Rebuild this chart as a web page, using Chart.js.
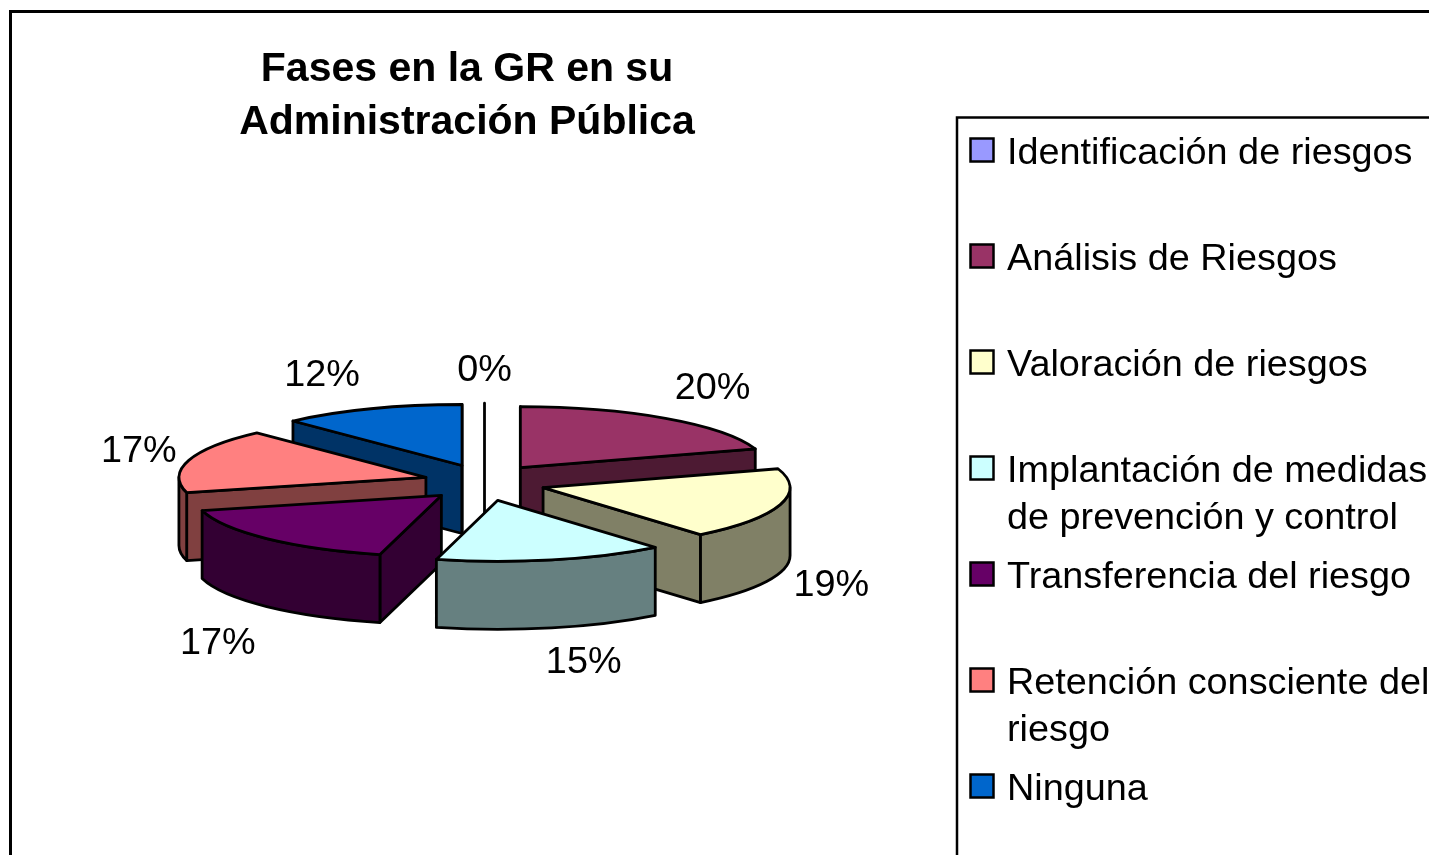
<!DOCTYPE html>
<html><head><meta charset="utf-8">
<style>html,body{margin:0;padding:0;background:#fff;overflow:hidden}canvas{display:block}#w{width:1429px;height:855px;position:relative}</style>
<script src="https://cdn.jsdelivr.net/npm/chart.js@4/dist/chart.umd.min.js"></script>
</head><body><div id="w"><canvas id="c" width="1429" height="855"></canvas></div>
<script>
const categories = ['Identificación de riesgos','Análisis de Riesgos','Valoración de riesgos','Implantación de medidas de prevención y control','Transferencia del riesgo','Retención consciente del riesgo','Ninguna'];
const legendLines = [['Identificación de riesgos'],['Análisis de Riesgos'],['Valoración de riesgos'],['Implantación de medidas','de prevención y control'],['Transferencia del riesgo'],['Retención consciente del','riesgo'],['Ninguna']];
const values = [0,20,19,15,17,17,12];
const topColors = ['#9999FF','#993366','#FFFFCC','#CCFFFF','#660066','#FF8080','#0066CC'];
const sideColors = ['#FFFFFF','#4D1A33','#808066','#668080','#330033','#804040','#003366'];
const titleLines = ['Fases en la GR en su','Administración Pública'];

const view = {cx:484.5, cy:482.5, tilt:0.247, explodeTilt:0.30, explode:61, depth:68, line:2.8};
const labelShift = [[0,-33],[47,-30],[51,81],[32,103],[-49,105],[-50,-9],[-49,-33]];
const FONT = '"Liberation Sans", Arial, sans-serif';

const pie3d = {
  id:'pie3d',
  afterLayout(chart){
    const t = chart.titleBlock; const w = t.right - t.left;
    t.left = 467 - w/2; t.right = 467 + w/2;
    const h = t.bottom - t.top; t.top = 43; t.bottom = 43 + h;
  },
  beforeDatasetDraw(chart){ return false; },
  beforeDraw(chart){
    const c = chart.ctx;
    c.save(); c.fillStyle='#fff'; c.fillRect(0,0,chart.width,chart.height);
    c.strokeStyle='#000'; c.lineWidth=3;
    c.strokeRect(10.5,11.5,chart.width+20,chart.height+20);
    c.restore();
  },
  afterDatasetsDraw(chart){
    const c = chart.ctx, meta = chart.getDatasetMeta(0), v = view, D = v.depth;
    const items = meta.data.map((arc,i)=>{
      const mid = (arc.startAngle+arc.endAngle)/2;
      return {arc,i,mid,a:arc.startAngle,b:arc.endAngle,
        x:v.cx+v.explode*Math.cos(mid), y:v.cy+v.explode*v.explodeTilt*Math.sin(mid)};
    }).sort((p,q)=>p.y-q.y);
    c.save();
    c.lineJoin='round'; c.lineCap='round'; c.lineWidth=v.line; c.strokeStyle='#000';
    for(const s of items){
      const R=s.arc.outerRadius, ry=R*v.tilt;
      const px=t=>s.x+R*Math.cos(t), py=t=>s.y+ry*Math.sin(t);
      if(s.b-s.a<1e-6){
        c.beginPath(); c.moveTo(px(s.a),py(s.a)); c.lineTo(s.x,s.y+D); c.stroke();
        continue;
      }
      c.fillStyle=sideColors[s.i];
      const face=t=>{
        c.beginPath(); c.moveTo(s.x,s.y); c.lineTo(px(t),py(t));
        c.lineTo(px(t),py(t)+D); c.lineTo(s.x,s.y+D); c.closePath(); c.fill(); c.stroke();
      };
      if(Math.cos(s.a)<1e-6) face(s.a);
      if(Math.cos(s.b)>-1e-6) face(s.b);
      const ra=Math.max(s.a,0), rb=Math.min(s.b,Math.PI);
      if(rb>ra){
        c.beginPath(); c.ellipse(s.x,s.y,R,ry,0,ra,rb);
        c.lineTo(px(rb),py(rb)+D); c.ellipse(s.x,s.y+D,R,ry,0,rb,ra,true);
        c.closePath(); c.fill(); c.stroke();
      }
      c.save();
      c.translate(s.x,s.y); c.scale(1,v.tilt); c.translate(-s.arc.x,-s.arc.y);
      s.arc.draw(c);
      c.restore();
      c.beginPath(); c.moveTo(s.x,s.y); c.ellipse(s.x,s.y,R,ry,0,s.a,s.b); c.closePath(); c.stroke();
    }
    c.restore();

    const total = values.reduce((m,n)=>m+n,0);
    c.save(); c.fillStyle='#000'; c.font='37.8px '+FONT; c.textAlign='center'; c.textBaseline='middle';
    for(const s of items){
      const R=s.arc.outerRadius, ry=R*v.tilt, sh=labelShift[s.i];
      const mid=s.b-s.a<1e-6?s.a:s.mid;
      c.fillText(Math.round(values[s.i]/total*100)+'%', s.x+R*Math.cos(mid)+sh[0], s.y+ry*Math.sin(mid)+sh[1]);
    }
    c.restore();

    c.save();
    c.strokeStyle='#000'; c.lineWidth=2.5; c.strokeRect(957,117.5,chart.width,chart.height);
    c.font='37.8px '+FONT; c.textBaseline='middle'; c.textAlign='left';
    legendLines.forEach((lines,i)=>{
      const y=151+i*106;
      c.fillStyle=topColors[i]; c.fillRect(970.5,y-12.5,23,23);
      c.strokeStyle='#000'; c.strokeRect(970.5,y-12.5,23,23);
      c.fillStyle='#000';
      lines.forEach((t,j)=>c.fillText(t,1007,y+3+j*47));
    });
    c.restore();
  }
};

new Chart(document.getElementById('c'),{
  type:'pie',
  data:{labels:categories,datasets:[{data:values,backgroundColor:topColors,borderWidth:0,hoverOffset:0}]},
  options:{
    responsive:false,animation:false,radius:247,
    events:[],
    plugins:{
      legend:{display:false},tooltip:{enabled:false},
      title:{display:true,text:titleLines,color:'#000',padding:0,font:{family:FONT,size:41,weight:'bold',lineHeight:1.3}}
    }
  },
  plugins:[pie3d]
});
</script></body></html>
